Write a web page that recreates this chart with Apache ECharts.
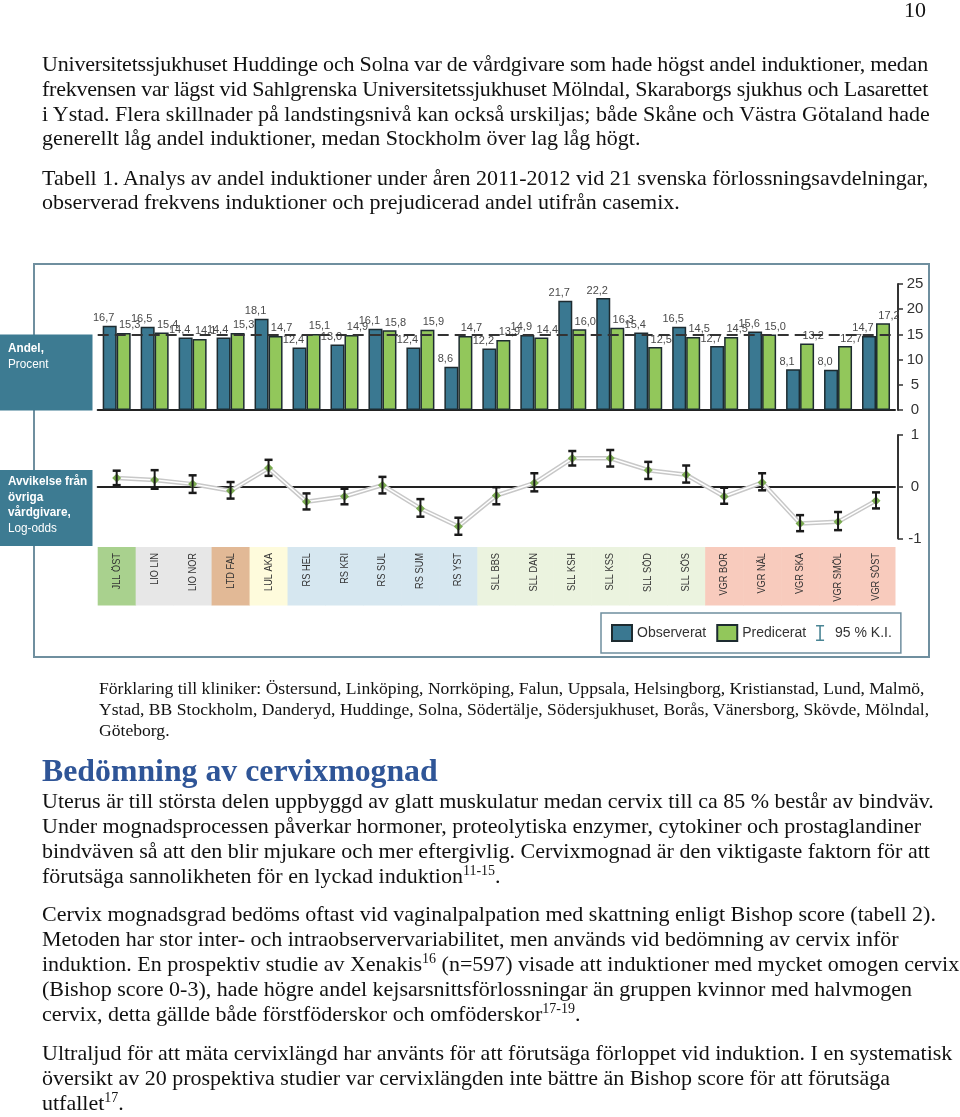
<!DOCTYPE html>
<html><head><meta charset="utf-8">
<script src="https://cdn.jsdelivr.net/npm/echarts@6/dist/echarts.min.js"></script>
<style>
html,body{margin:0;padding:0;background:#fff;}
body{width:960px;height:1117px;position:relative;overflow:hidden;}
#chart{position:absolute;left:0;top:0;width:960px;height:1117px;}
.t{position:absolute;font-family:"Liberation Serif","Times New Roman",serif;color:#111;white-space:nowrap;}
.p{font-size:22px;line-height:24.8px;left:42px;}
.p2{font-size:22px;line-height:25px;left:42px;}
sup{font-size:14px;line-height:0;vertical-align:0.6em;}
</style></head>
<body>
<div id="chart"></div>
<div class="t" style="left:904px;top:0px;font-size:22px;line-height:20px">10</div>
<div class="t p" style="top:52px"><span class="fit" data-w="886">Universitetssjukhuset Huddinge och Solna var de vårdgivare som hade högst andel induktioner, medan</span><br><span class="fit" data-w="886">frekvensen var lägst vid Sahlgrenska Universitetssjukhuset Mölndal, Skaraborgs sjukhus och Lasarettet</span><br>i Ystad. Flera skillnader på landstingsnivå kan också urskiljas; både Skåne och Västra Götaland hade<br>generellt låg andel induktioner, medan Stockholm över lag låg högt.</div>
<div class="t p" style="top:165.5px">Tabell 1. Analys av andel induktioner under åren 2011-2012 vid 21 svenska förlossningsavdelningar,<br>observerad frekvens induktioner och prejudicerad andel utifrån casemix.</div>
<div class="t" style="left:99px;top:678px;font-size:17.6px;line-height:21px">Förklaring till kliniker: Östersund, Linköping, Norrköping, Falun, Uppsala, Helsingborg, Kristianstad, Lund, Malmö,<br>Ystad, BB Stockholm, Danderyd, Huddinge, Solna, Södertälje, Södersjukhuset, Borås, Vänersborg, Skövde, Mölndal,<br>Göteborg.</div>
<div class="t" style="left:42px;top:751px;font-size:31.8px;line-height:40px;font-weight:bold;color:#2f5597">Bedömning av cervixmognad</div>
<div class="t p2" style="top:788px">Uterus är till största delen uppbyggd av glatt muskulatur medan cervix till ca 85 % består av bindväv.<br>Under mognadsprocessen påverkar hormoner, proteolytiska enzymer, cytokiner och prostaglandiner<br>bindväven så att den blir mjukare och mer eftergivlig. Cervixmognad är den viktigaste faktorn för att<br>förutsäga sannolikheten för en lyckad induktion<sup>11-15</sup>.</div>
<div class="t p2" style="top:901px">Cervix mognadsgrad bedöms oftast vid vaginalpalpation med skattning enligt Bishop score (tabell 2).<br>Metoden har stor inter- och intraobservervariabilitet, men används vid bedömning av cervix inför<br>induktion. En prospektiv studie av Xenakis<sup>16</sup> (n=597) visade att induktioner med mycket omogen cervix<br>(Bishop score 0-3), hade högre andel kejsarsnittsförlossningar än gruppen kvinnor med halvmogen<br>cervix, detta gällde både förstföderskor och omföderskor<sup>17-19</sup>.</div>
<div class="t p2" style="top:1040px">Ultraljud för att mäta cervixlängd har använts för att förutsäga förloppet vid induktion. I en systematisk<br>översikt av 20 prospektiva studier var cervixlängden inte bättre än Bishop score för att förutsäga<br>utfallet<sup>17</sup>.</div>
<script>
// fit lines that are justified in the source to their measured width
document.querySelectorAll('.fit').forEach(function(s){
  const target = parseFloat(s.getAttribute('data-w'));
  const w = s.getBoundingClientRect().width;
  const n = s.textContent.length;
  if (n>0) s.style.letterSpacing = ((target - w)/n) + 'px';
});

const categories = ['JLL ÖST','LIO LIN','LIO NOR','LTD FAL','LUL AKA','RS HEL','RS KRI','RS SUL','RS SUM','RS YST','SLL BBS','SLL DAN','SLL KSH','SLL KSS','SLL SÖD','SLL SÖS','VGR BOR','VGR NÄL','VGR SKA','VGR SMÖL','VGR SÖST'];
const regionOf = ['JLL','LIO','LIO','LTD','LUL','RS','RS','RS','RS','RS','SLL','SLL','SLL','SLL','SLL','SLL','VGR','VGR','VGR','VGR','VGR'];
const observed = [16.7,16.5,14.4,14.4,18.1,12.4,13.0,16.1,12.4,8.6,12.2,14.9,21.7,22.2,15.4,16.5,12.7,15.6,8.1,8.0,14.7];
const predicted = [15.3,15.4,14.1,15.3,14.7,15.1,14.9,15.8,15.9,14.7,13.9,14.4,16.0,16.3,12.5,14.5,14.5,15.0,13.2,12.7,17.2];
const logOdds = [0.17,0.13,0.05,-0.08,0.36,-0.29,-0.19,0.03,-0.42,-0.77,-0.17,0.07,0.55,0.55,0.32,0.23,-0.19,0.08,-0.71,-0.68,-0.27];
const ciLow  = [0.03,-0.04,-0.12,-0.23,0.21,-0.44,-0.34,-0.13,-0.58,-0.93,-0.34,-0.09,0.41,0.39,0.15,0.08,-0.33,-0.07,-0.86,-0.84,-0.42];
const ciHigh = [0.31,0.32,0.22,0.09,0.52,-0.13,-0.04,0.19,-0.24,-0.60,-0.01,0.26,0.69,0.71,0.48,0.41,-0.02,0.26,-0.55,-0.49,-0.11];
const referenceLevel = 15;
const regionColors = {JLL:'#a9d18e',LIO:'#e7e7e7',LTD:'#e2b996',LUL:'#fefbdc',RS:'#d6e7f0',SLL:'#ebf3df',VGR:'#f8cbbd'};

const SANS = '"Liberation Sans", Arial, sans-serif';
const fmt = v => v.toFixed(1).replace('.', ',');

const gL = 97.7, gW = 797.3;
const chart = echarts.init(document.getElementById('chart'), null, {renderer:'canvas'});
const axisCol = '#333';
function boxText(x, y, text, bold){
  return {type:'text', x:x, y:y, scaleX:0.87, style:{text:text, fill:'#fff', fontSize:13.5, fontWeight:bold?'bold':'normal', fontFamily:SANS, verticalAlign:'middle'}};
}
chart.setOption({
  animation:false,
  grid:[
    {left:gL, width:gW, top:284, height:126},
    {left:gL, width:gW, top:435, height:103.4},
    {left:gL, width:gW, top:547, height:58.5}
  ],
  xAxis:[
    {gridIndex:0, type:'category', data:categories, axisLine:{lineStyle:{color:'#222',width:2}}, axisTick:{show:false}, axisLabel:{show:false}},
    {gridIndex:1, type:'category', data:categories, axisLine:{onZero:true, lineStyle:{color:'#222',width:2}}, axisTick:{show:false}, axisLabel:{show:false}},
    {gridIndex:2, type:'category', data:categories, show:false}
  ],
  yAxis:[
    {gridIndex:0, type:'value', position:'right', offset:3, min:0, max:25, interval:5,
     axisLine:{show:true, lineStyle:{color:axisCol,width:2}}, axisTick:{show:true,length:5,lineStyle:{color:axisCol,width:1.5}},
     axisLabel:{fontSize:15, color:axisCol, fontFamily:SANS, margin:17, align:'center'}, splitLine:{show:false}},
    {gridIndex:1, type:'value', position:'right', offset:3, min:-1, max:1, interval:1,
     axisLine:{show:true, onZero:false, lineStyle:{color:axisCol,width:2}}, axisTick:{show:true,length:5,lineStyle:{color:axisCol,width:1.5}},
     axisLabel:{fontSize:15, color:axisCol, fontFamily:SANS, margin:17, align:'center'}, splitLine:{show:false}},
    {gridIndex:2, type:'value', min:0, max:1, show:false}
  ],
  legend:{
    left:601, top:613, selectedMode:false,
    data:[{name:'Observerat',icon:'rect'},{name:'Predicerat',icon:'rect'},
          {name:'95 % K.I.',icon:'path://M0,0H8V1.6H4.8V14.4H8V16H0V14.4H3.2V1.6H0Z', itemStyle:{color:'#4a8595'}}],
    itemWidth:20, itemHeight:16, itemGap:10,
    padding:[11,9,11,10],
    borderColor:'#6f8f9f', borderWidth:1.5,
    textStyle:{fontSize:14, color:'#333', fontFamily:SANS}
  },
  graphic:[
    {type:'rect', shape:{x:34,y:264,width:895,height:393}, style:{fill:'none',stroke:'#6f8f9f',lineWidth:2}},
    {type:'rect', shape:{x:0,y:334.5,width:92.5,height:76}, style:{fill:'#3d7b92'}},
    boxText(8, 348.5, 'Andel,', true),
    boxText(8, 364.5, 'Procent', false),
    {type:'rect', shape:{x:0,y:470,width:92.5,height:76}, style:{fill:'#3d7b92'}},
    boxText(8, 481, 'Avvikelse från', true),
    boxText(8, 497, 'övriga', true),
    boxText(8, 512.5, 'vårdgivare,', true),
    boxText(8, 528.5, 'Log-odds', false)
  ],
  series:[
    {name:'Observerat', type:'bar', xAxisIndex:0, yAxisIndex:0, data:observed, barWidth:14, barGap:'0%',
     itemStyle:{color:'#3a7891', borderColor:'#1d2b30', borderWidth:1.5},
     label:{show:true, position:'top', distance:2, offset:[-6,0], formatter:p=>fmt(p.value), fontSize:11, color:'#4a4a4a', fontFamily:SANS},
     markLine:{silent:true, symbol:'none', label:{show:false}, lineStyle:{type:[11,6], color:'#333', width:2}, data:[{yAxis:referenceLevel}]}},
    {name:'Predicerat', type:'bar', xAxisIndex:0, yAxisIndex:0, data:predicted, barWidth:14, barGap:'0%',
     itemStyle:{color:'#92c75b', borderColor:'#1d2b30', borderWidth:1.5},
     label:{show:true, position:'top', distance:2, offset:[6,0], formatter:p=>fmt(p.value), fontSize:11, color:'#4a4a4a', fontFamily:SANS}},
    {name:'lo_outer', type:'line', xAxisIndex:1, yAxisIndex:1, data:logOdds, symbol:'none', silent:true,
     lineStyle:{color:'#c8c8c8', width:4.5}, z:2},
    {name:'lo_inner', type:'line', xAxisIndex:1, yAxisIndex:1, data:logOdds, symbol:'diamond', symbolSize:9, showSymbol:true, silent:true,
     itemStyle:{color:'#7aab50'}, lineStyle:{color:'#ffffff', width:1.5}, z:3},
    {name:'95 % K.I.', type:'custom', xAxisIndex:1, yAxisIndex:1, z:4, silent:true,
     itemStyle:{color:'#4a8595'},
     data:categories.map((c,i)=>[i, ciLow[i], ciHigh[i]]),
     encode:{x:0, y:[1,2]},
     renderItem:function(params, api){
       const x=api.value(0), lo=api.value(1), hi=api.value(2);
       const a=api.coord([x,lo]), b=api.coord([x,hi]);
       const hw=4;
       return {type:'group', children:[
         {type:'line', shape:{x1:a[0],y1:a[1],x2:b[0],y2:b[1]}, style:{stroke:'#1a1a1a', lineWidth:2}},
         {type:'line', shape:{x1:a[0]-hw,y1:a[1],x2:a[0]+hw,y2:a[1]}, style:{stroke:'#1a1a1a',lineWidth:2.5}},
         {type:'line', shape:{x1:b[0]-hw,y1:b[1],x2:b[0]+hw,y2:b[1]}, style:{stroke:'#1a1a1a',lineWidth:2.5}}
       ]};
     }},
    {name:'band', type:'custom', xAxisIndex:2, yAxisIndex:2, silent:true,
     data:categories.map((c,i)=>[i, 1]),
     encode:{x:0, y:1},
     renderItem:function(params, api){
       const i=api.value(0);
       const top=api.coord([i,1]), bot=api.coord([i,0]);
       const bw=api.size([1,0])[0];
       const name=categories[i];
       return {type:'group', children:[
         {type:'rect', shape:{x:top[0]-bw/2, y:top[1], width:bw+0.5, height:bot[1]-top[1]}, style:{fill:regionColors[regionOf[i]]}},
         {type:'text', x:top[0], y:top[1]+6, rotation:Math.PI/2, scaleX:0.84,
          style:{text:name, fontSize:11, fill:'#333', fontFamily:SANS, align:'right', verticalAlign:'middle'}}
       ]};
     }}
  ]
});
</script>
</body></html>
